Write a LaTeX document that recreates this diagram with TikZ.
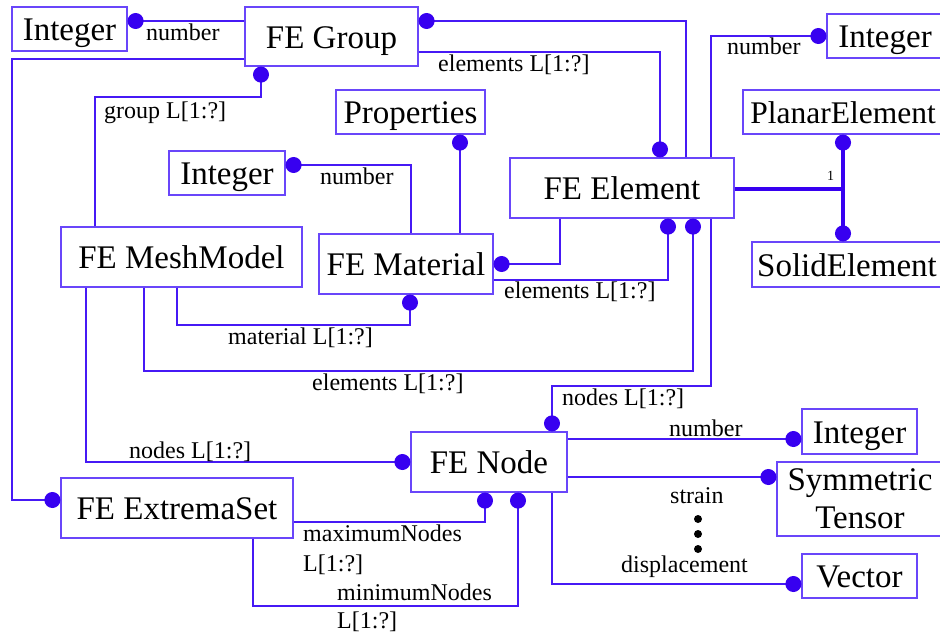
\documentclass[tikz,border=0pt]{standalone}
\usepackage{fontspec}
\setmainfont{Liberation Serif}
\usetikzlibrary{arrows.meta}
\definecolor{linec}{RGB}{70,25,245}
\definecolor{boxc}{RGB}{105,70,250}
\definecolor{dotc}{RGB}{55,0,240}
\newcommand{\bigf}{\fontsize{33}{38}\selectfont}
\newcommand{\smallf}{\fontsize{24}{28}\selectfont}
\tikzset{
  boxbase/.style={draw=boxc, line width=1.2pt, font=\bigf, inner sep=0pt, align=center},
  box/.style={boxbase, text height=23pt, text depth=0pt},
  conn/.style={draw=linec, line width=1.2pt, -{Circle[length=16pt,width=16pt,color=dotc]}},
  thickconn/.style={draw=dotc, line width=4pt, -{Circle[length=16pt,width=16pt]}},
  lab/.style={font=\smallf, inner sep=0pt, anchor=base west},
}
\begin{document}
\begin{tikzpicture}[x=1pt,y=-1pt]
\path[use as bounding box] (0,0) rectangle (940,633);
\clip (0,0) rectangle (940,633);
% boxes
\node[box, minimum width=115pt, minimum height=44pt] (intA) at (69.5,29) {Integer};
\node[box, minimum width=173pt, minimum height=59pt] (grp) at (331.5,36.5) {FE Group};
\node[box, minimum width=116pt, minimum height=44pt] (intB) at (885,36) {Integer};
\node[box, minimum width=149pt, minimum height=44pt] (prop) at (410.5,112) {Properties};
\node[box, minimum width=116pt, minimum height=44pt] (intC) at (227,173) {Integer};
\node[box, minimum width=224pt, minimum height=60pt] (elem) at (622,188) {FE Element};
\node[box, font=\fontsize{31.5}{36}\selectfont, minimum width=200pt, minimum height=44pt] (planar) at (843,112) {PlanarElement};
\node[box, minimum width=190pt, minimum height=45pt] (solid) at (847,264.5) {SolidElement};
\node[box, minimum width=241pt, minimum height=60pt] (mesh) at (181.5,257) {FE MeshModel};
\node[box, minimum width=174pt, minimum height=60pt] (mat) at (406,264) {FE Material};
\node[box, minimum width=156pt, minimum height=60pt] (node) at (489,462) {FE Node};
\node[box, minimum width=232pt, minimum height=60pt] (ext) at (177,508) {FE ExtremaSet};
\node[box, minimum width=115pt, minimum height=45pt] (intD) at (859.5,431.5) {Integer};
\node[boxbase, minimum width=166pt, minimum height=74pt] (sym) at (860,499) {Symmetric\\Tensor};
\node[box, minimum width=115pt, minimum height=44pt] (vec) at (859.5,576) {Vector};
% connectors
\draw[conn] (grp.west |- 0,21) -- (intA.east |- 0,21);
\draw[conn] (grp.west |- 0,59) -- (12,59) -- (12,500) -- (ext.west |- 0,500);
\draw[conn] (mesh.north -| 95,0) -- (95,97) -- (261,97) -- (grp.south -| 261,0);
\draw[conn] (elem.north -| 686,0) -- (686,21) -- (grp.east |- 0,21);
\draw[conn] (grp.east |- 0,52) -- (660,52) -- (elem.north -| 660,0);
\draw[conn] (elem.north -| 711,0) -- (711,36) -- (intB.west |- 0,36);
\draw[conn] (mat.north -| 460,0) -- (prop.south -| 460,0);
\draw[conn] (mat.north -| 411,0) -- (411,165) -- (intC.east |- 0,165);
\draw[conn] (elem.south -| 560,0) -- (560,264) -- (mat.east |- 0,264);
\draw[conn] (mat.east |- 0,280) -- (668,280) -- (elem.south -| 668,0);
\draw[conn] (mesh.south -| 177,0) -- (177,325) -- (410,325) -- (mat.south -| 410,0);
\draw[conn] (mesh.south -| 144,0) -- (144,371) -- (693,371) -- (elem.south -| 693,0);
\draw[conn] (mesh.south -| 86,0) -- (86,462) -- (node.west |- 0,462);
\draw[conn] (elem.south -| 711,0) -- (711,386) -- (552,386) -- (node.north -| 552,0);
\draw[conn] (node.east |- 0,439) -- (intD.west |- 0,439);
\draw[conn] (node.east |- 0,477) -- (sym.west |- 0,477);
\draw[conn] (node.south -| 552,0) -- (552,584) -- (vec.west |- 0,584);
\draw[conn] (ext.east |- 0,522) -- (485,522) -- (node.south -| 485,0);
\draw[conn] (ext.south -| 253,0) -- (253,606) -- (518,606) -- (node.south -| 518,0);
% inheritance
\coordinate (jn) at (843,189);
\draw[draw=dotc, line width=4pt] (elem.east |- jn) -- (jn);
\draw[thickconn] (jn) -- (planar.south -| jn);
\draw[thickconn] (jn) -- (solid.north -| jn);
\node[font=\fontsize{14}{16}\selectfont, inner sep=0pt, anchor=base west] (one) at (827,180) {1};
% labels
\node[lab] (l1) at (146,40) {number};
\node[lab] (l2) at (104,118) {group L[1:?]};
\node[lab] (l3) at (438,71) {elements L[1:?]};
\node[lab] (l4) at (727,54) {number};
\node[lab] (l5) at (320,184) {number};
\node[lab] (l6) at (504,298) {elements L[1:?]};
\node[lab] (l7) at (228,344) {material L[1:?]};
\node[lab] (l8) at (312,390) {elements L[1:?]};
\node[lab] (l9) at (129,458) {nodes L[1:?]};
\node[lab] (l10) at (562,405) {nodes L[1:?]};
\node[lab] (l11) at (669,436) {number};
\node[lab] (l12) at (670,503) {strain};
\node[lab] (l13) at (621,572) {displacement};
\node[lab] (l14) at (303,541) {maximumNodes};
\node[lab] (l15) at (303,571) {L[1:?]};
\node[lab] (l16) at (337,600) {minimumNodes};
\node[lab] (l17) at (337,628) {L[1:?]};
% vertical ellipsis
\fill (698,519) circle (4pt) (698,534) circle (4pt) (698,549) circle (4pt);
\end{tikzpicture}
\end{document}
